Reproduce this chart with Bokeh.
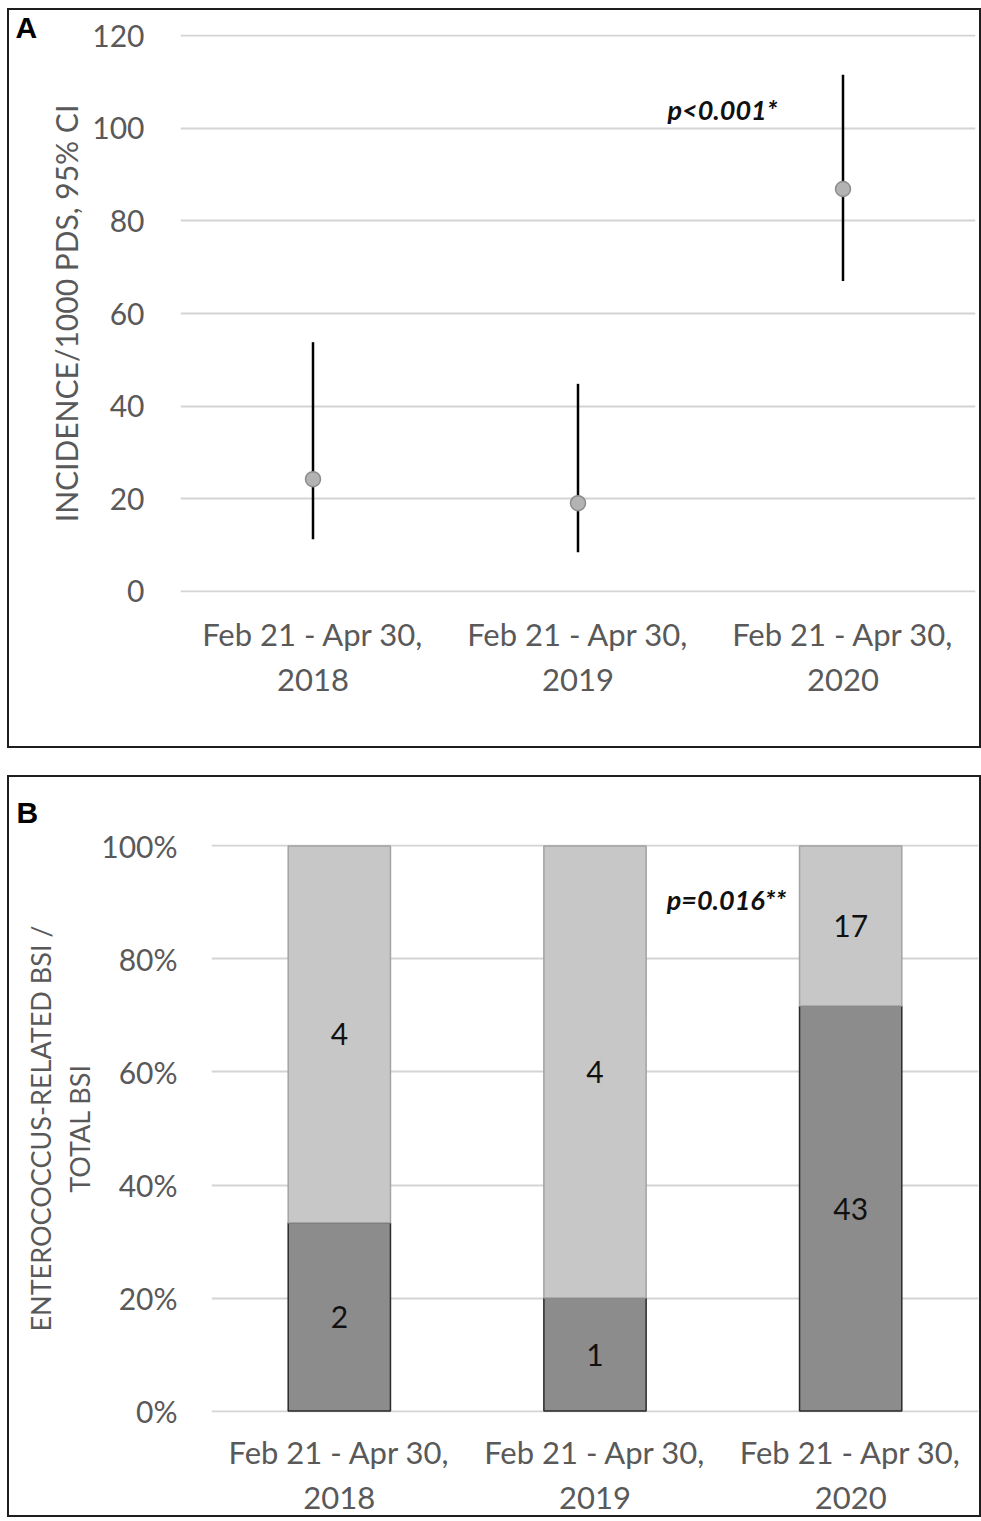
from bokeh.plotting import figure
from bokeh.models import ColumnDataSource, FactorRange, Range1d, FixedTicker, Whisker, Title, NumeralTickFormatter
from bokeh.transform import dodge
from bokeh.core.properties import value
from bokeh.embed import file_html
from bokeh.resources import INLINE

# ---- data ----
periods = ["Feb 21 - Apr 30,\n2018", "Feb 21 - Apr 30,\n2019", "Feb 21 - Apr 30,\n2020"]
incidence = [24.2, 19.0, 86.9]
ci_low = [11.2, 8.4, 67.0]
ci_high = [53.8, 44.8, 111.6]
enterococcus_bsi = [2, 1, 43]
other_bsi = [4, 4, 17]
y_ticks_a = [0, 20, 40, 60, 80, 100, 120]
y_ticks_b = [0, 0.2, 0.4, 0.6, 0.8, 1.0]
p_text_a = "p<0.001*"
p_text_b = "p=0.016**"

FONT = "Lato"
TICK_COLOR = "#595959"
GRID_COLOR = "#d4d4d4"


def style(p):
    p.xaxis.axis_line_color = None
    p.yaxis.axis_line_color = None
    p.xaxis.major_tick_line_color = None
    p.yaxis.major_tick_line_color = None
    p.xaxis.minor_tick_line_color = None
    p.yaxis.minor_tick_line_color = None
    p.xgrid.grid_line_color = None
    p.ygrid.grid_line_color = GRID_COLOR
    p.ygrid.grid_line_width = 2
    p.outline_line_color = None
    for ax in (p.xaxis[0], p.yaxis[0]):
        ax.major_label_text_font = FONT
        ax.major_label_text_color = TICK_COLOR
        ax.axis_label_text_font = FONT
        ax.axis_label_text_color = TICK_COLOR
        ax.axis_label_text_font_style = "normal"
    p.yaxis.major_label_text_font_size = "30px"
    p.xaxis.major_label_text_font_size = "31px"
    p.styles = {"border": "2px solid #1e1e1e"}


def panel_title(text, offset, standoff):
    return Title(text=text, align="left", offset=offset, standoff=standoff,
                 text_font="Liberation Sans", text_font_style="bold", text_font_size="30px",
                 text_color="black")


# ---- Panel A ----
pa = figure(width=974, height=740, x_range=FactorRange(*periods), y_range=Range1d(-0.3, 120.3),
            output_backend="svg", toolbar_location=None,
            min_border_left=171, min_border_right=8, min_border_top=24, min_border_bottom=158)
style(pa)
pa.margin = (8, 0, 0, 7)
pa.yaxis.ticker = FixedTicker(ticks=y_ticks_a)
pa.yaxis.major_label_standoff = 30
pa.yaxis.axis_label = "INCIDENCE/1000 PDS, 95% CI"
pa.yaxis.axis_label_text_font_size = "30px"
pa.yaxis.axis_label_standoff = 5
pa.xaxis.major_label_standoff = 16
pa.add_layout(panel_title("A", -165, -19), "above")

src_a = ColumnDataSource(dict(x=periods, y=incidence, lo=ci_low, hi=ci_high))
pa.add_layout(Whisker(base="x", lower="lo", upper="hi", source=src_a,
                      line_color="black", line_width=2.5,
                      lower_head=None, upper_head=None))
pa.scatter("x", "y", source=src_a, size=15, fill_color="#b3b3b3", line_color="#8c8c8c", line_width=1.5)
pa.text(x=dodge("x", -0.455, range=pa.x_range), y="y",
        source=ColumnDataSource(dict(x=[periods[2]], y=[104], t=[p_text_a])), text="t",
        text_font=value(FONT), text_font_style="bold italic", text_font_size="27px",
        text_align="center", text_baseline="middle", text_color="#111111")

# ---- Panel B ----
totals = [e + o for e, o in zip(enterococcus_bsi, other_bsi)]
frac_e = [e / t for e, t in zip(enterococcus_bsi, totals)]
src_b = ColumnDataSource(dict(
    x=periods, fe=frac_e, one=[1.0] * 3,
    e_lab=[str(v) for v in enterococcus_bsi], o_lab=[str(v) for v in other_bsi],
    e_mid=[f / 2 for f in frac_e], o_mid=[(f + 1) / 2 for f in frac_e],
))

pb = figure(width=974, height=742, x_range=FactorRange(*periods), y_range=Range1d(-0.0025, 1.0025),
            output_backend="svg", toolbar_location=None,
            min_border_left=202, min_border_right=5, min_border_top=66, min_border_bottom=96)
style(pb)
pb.margin = (27, 0, 0, 7)
pb.yaxis.ticker = FixedTicker(ticks=y_ticks_b)
pb.yaxis.formatter = NumeralTickFormatter(format="0%")
pb.yaxis.major_label_standoff = 28
pb.yaxis.axis_label = "ENTEROCOCCUS-RELATED BSI /\nTOTAL BSI"
pb.yaxis.axis_label_text_font_size = "27px"
pb.yaxis.axis_label_standoff = 2
pb.xaxis.major_label_standoff = 14
pb.add_layout(panel_title("B", -195, 32), "above")

pb.vbar(x="x", bottom=0, top="fe", width=0.4, source=src_b,
        fill_color="#8c8c8c", line_color="#2a2a2a", line_width=1.5)
pb.vbar(x="x", bottom="fe", top="one", width=0.4, source=src_b,
        fill_color="#c7c7c7", line_color="#a3a3a3", line_width=1.5)
pb.text(x="x", y="e_mid", text="e_lab", source=src_b, text_font=value(FONT), text_font_size="30px",
        text_align="center", text_baseline="middle", text_color="#111111")
pb.text(x="x", y="o_mid", text="o_lab", source=src_b, text_font=value(FONT), text_font_size="30px",
        text_align="center", text_baseline="middle", text_color="#111111")
pb.text(x=dodge("x", -0.486, range=pb.x_range), y="y",
        source=ColumnDataSource(dict(x=[periods[2]], y=[0.906], t=[p_text_b])), text="t",
        text_font=value(FONT), text_font_style="bold italic", text_font_size="27px",
        text_align="center", text_baseline="middle", text_color="#111111")

open("out.html", "w").write(file_html([pa, pb], INLINE))
